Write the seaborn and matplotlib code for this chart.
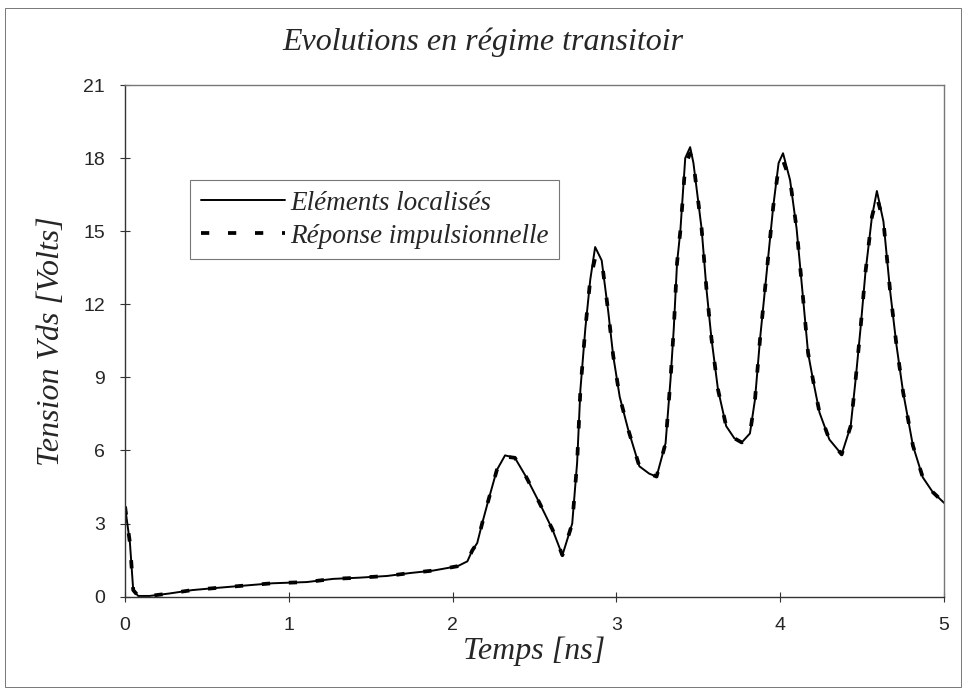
import matplotlib
matplotlib.use("Agg")
import matplotlib.pyplot as plt
import seaborn as sns
import pandas as pd
from matplotlib.patches import Rectangle

# ---- data ----
temps = [0, 0.03, 0.05, 0.08, 0.15, 0.27, 0.41, 0.56, 0.72, 0.9, 1.11, 1.27, 1.43, 1.6,
         1.74, 1.88, 2.03, 2.09, 2.12, 2.15, 2.18, 2.22, 2.27, 2.32, 2.38, 2.45, 2.53,
         2.61, 2.67, 2.73, 2.76, 2.78, 2.81, 2.84, 2.87, 2.91, 2.95, 2.98, 3.02, 3.07,
         3.14, 3.2, 3.245, 3.3, 3.33, 3.35, 3.37, 3.39, 3.42, 3.45, 3.47, 3.52, 3.55,
         3.58, 3.62, 3.67, 3.72, 3.765, 3.815, 3.846, 3.877, 3.917, 3.957, 3.99, 4.017,
         4.06, 4.1, 4.14, 4.17, 4.2, 4.24, 4.3, 4.375, 4.43, 4.46, 4.49, 4.52, 4.56,
         4.59, 4.63, 4.67, 4.71, 4.75, 4.81, 4.87, 4.93, 5.0]

elements_localises = [3.7, 2.2, 0.27, 0.03, 0.03, 0.13, 0.27, 0.36, 0.45, 0.55, 0.6, 0.73,
                      0.78, 0.85, 0.97, 1.07, 1.25, 1.45, 1.9, 2.2, 3.0, 4.0, 5.2, 5.8, 5.7,
                      4.9, 3.85, 2.75, 1.7, 3.0, 5.5, 8.5, 11.0, 13.0, 14.35, 13.8, 11.7, 9.9,
                      8.2, 6.9, 5.35, 5.05, 4.93, 6.3, 8.9, 11.0, 13.7, 15.0, 18.0, 18.45,
                      17.8, 15.1, 12.6, 10.6, 8.5, 7.0, 6.5, 6.33, 6.7, 8.1, 10.6, 13.3, 16.0,
                      17.8, 18.2, 17.1, 15.1, 12.2, 10.0, 8.9, 7.55, 6.45, 5.84, 7.0, 8.9,
                      11.0, 13.3, 15.6, 16.65, 15.4, 12.6, 10.3, 8.4, 6.2, 4.9, 4.3, 3.85]

reponse_impulsionnelle = [3.7, 2.2, 0.27, 0.03, 0.03, 0.13, 0.27, 0.36, 0.45, 0.55, 0.6, 0.73,
                          0.78, 0.85, 0.97, 1.07, 1.25, 1.45, 1.9, 2.2, 3.0, 4.0, 5.2, 5.75, 5.7,
                          4.9, 3.85, 2.75, 1.7, 3.0, 5.5, 8.5, 11.0, 13.0, 13.9, 13.8, 11.7, 9.9,
                          8.2, 6.9, 5.35, 5.05, 4.93, 6.3, 8.9, 11.0, 13.7, 15.0, 17.7, 18.2,
                          17.8, 15.1, 12.6, 10.6, 8.5, 7.0, 6.5, 6.33, 6.7, 8.1, 10.6, 13.3, 16.0,
                          17.6, 17.9, 17.1, 15.1, 12.2, 10.0, 8.9, 7.55, 6.45, 5.84, 7.0, 8.9,
                          11.0, 13.3, 15.6, 16.4, 15.4, 12.6, 10.3, 8.4, 6.2, 4.9, 4.3, 3.85]

labels = ["Eléments localisés", "Réponse impulsionnelle"]
x_ticks = [0, 1, 2, 3, 4, 5]
y_ticks = [0, 3, 6, 9, 12, 15, 18, 21]

df_loc = pd.DataFrame({"t": temps, "v": elements_localises})
df_rep = pd.DataFrame({"t": temps, "v": reponse_impulsionnelle})

# ---- style ----
sns.set_style("ticks")
plt.rcParams["font.family"] = ["Liberation Sans", "DejaVu Sans"]
serif = ["Liberation Serif", "DejaVu Serif"]

fig = plt.figure(figsize=(9.64, 6.89), dpi=100)
ax = fig.add_axes([0.1297, 0.134, 0.8496, 0.7426])

sns.lineplot(data=df_rep, x="t", y="v", ax=ax, color="black", lw=2.7,
             sort=False, estimator=None)
line_rep = ax.lines[-1]
line_rep.set_dashes((2.2, 5.0))
sns.lineplot(data=df_loc, x="t", y="v", ax=ax, color="black", lw=1.4,
             sort=False, estimator=None)
line_loc = ax.lines[-1]

ax.set_xlim(0, 5)
ax.set_ylim(0, 21)
ax.set_xticks(x_ticks)
ax.set_yticks(y_ticks)
ax.set_xticklabels([str(v) for v in x_ticks])
ax.set_yticklabels([str(v) for v in y_ticks])
ax.tick_params(direction="inout", length=7, width=0.8, color="#333333",
               labelsize=14, pad=11)

for side in ["left", "bottom"]:
    ax.spines[side].set_color("#333333")
    ax.spines[side].set_linewidth(1.0)
for side in ["top", "right"]:
    ax.spines[side].set_visible(True)
    ax.spines[side].set_color("#777777")
    ax.spines[side].set_linewidth(1.0)

ax.set_xlabel("Temps [ns]", family=serif, style="italic", fontsize=23, labelpad=2)
ax.set_ylabel("Tension Vds [Volts]", family=serif, style="italic", fontsize=23, labelpad=12)

fig.text(0.501, 0.938, "Evolutions en régime transitoir", family=serif, style="italic",
         fontsize=23, ha="center", va="center")

leg = ax.legend([line_loc, line_rep], labels,
                loc="upper left", bbox_to_anchor=(0.079, 0.815), borderaxespad=0,
                frameon=True, fancybox=False, shadow=False, edgecolor="#555555",
                prop={"family": serif, "style": "italic", "size": 19.5},
                handlelength=3.1, handletextpad=0.2, labelspacing=0.3,
                borderpad=0.4)
leg.get_frame().set_linewidth(0.8)

# outer frame around whole chart
fig.patches.append(Rectangle((0.005, 0.003), 0.992, 0.985, transform=fig.transFigure,
                             fill=False, edgecolor="#777777", lw=0.7))

fig.savefig("out.png", dpi=100)
